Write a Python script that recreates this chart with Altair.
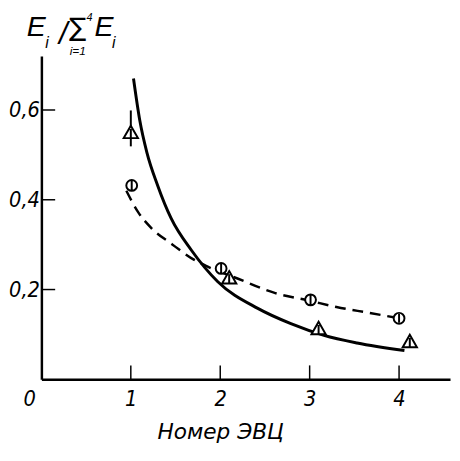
import altair as alt
import pandas as pd

# solid curve
solid_x = [1.03, 1.10, 1.18, 1.30, 1.45, 1.68, 1.97, 2.42, 2.79, 3.16, 3.53, 4.06]
solid_y = [0.670, 0.577, 0.505, 0.432, 0.359, 0.287, 0.218, 0.158, 0.124, 0.098, 0.081, 0.064]

# dashed curve
dash_x = [0.95, 1.08, 1.23, 1.46, 1.71, 1.86, 2.20, 2.60, 3.00, 3.30, 3.67, 4.00]
dash_y = [0.420, 0.373, 0.337, 0.301, 0.266, 0.251, 0.224, 0.193, 0.175, 0.161, 0.148, 0.136]

# circle markers
circ_x = [1.01, 2.01, 3.01, 4.00]
circ_y = [0.432, 0.247, 0.177, 0.136]

# triangle markers
tri_x = [1.00, 2.10, 3.10, 4.12]
tri_y = [0.550, 0.226, 0.113, 0.084]

# error bar on first triangle
err_x = [1.00]
err_lo = [0.519]
err_hi = [0.599]

x_ticks = [1, 2, 3, 4]
y_ticks = [0.2, 0.4, 0.6]

NARROW = "Liberation Sans Narrow, DejaVu Sans Condensed, Liberation Sans, sans-serif"
SANS = "Liberation Sans, DejaVu Sans, sans-serif"

xs = alt.Scale(domain=[0, 4.57], nice=False, zero=False)
ys = alt.Scale(domain=[0, 0.72], nice=False, zero=False)

solid_df = pd.DataFrame({"x": solid_x, "y": solid_y})
dash_df = pd.DataFrame({"x": dash_x, "y": dash_y})
circ_df = pd.DataFrame({"x": circ_x, "y": circ_y})
tri_df = pd.DataFrame({"x": tri_x, "y": tri_y})
err_df = pd.DataFrame({"x": err_x, "lo": err_lo, "hi": err_hi})
xt_df = pd.DataFrame({"x": x_ticks, "y0": [0.0] * 4, "y1": [0.031] * 4})
yt_df = pd.DataFrame({"y": y_ticks, "x0": [0.0] * 3, "x1": [0.154] * 3})

xaxis = alt.Axis(values=x_ticks, ticks=False, grid=False, domain=True, format="d",
                 domainColor="black", domainWidth=2.5,
                 labelFont=NARROW, labelFontStyle="italic", labelFontSize=22,
                 labelColor="black", labelPadding=10,
                 title="Номер ЭВЦ", titleFont="DejaVu Sans", titleFontStyle="italic",
                 titleFontWeight="normal", titleFontSize=22, titleColor="black",
                 titlePadding=12, titleX=182)
yaxis = alt.Axis(values=y_ticks, ticks=False, grid=False, domain=True,
                 domainColor="black", domainWidth=2.5,
                 labelFont=NARROW, labelFontStyle="italic", labelFontSize=22,
                 labelColor="black", labelPadding=2, format=".1f",
                 labelExpr="replace(datum.label, '.', ',')", title=None)

solid = alt.Chart(solid_df).mark_line(color="black", strokeWidth=3, interpolate="monotone").encode(
    x=alt.X("x:Q", scale=xs, axis=xaxis), y=alt.Y("y:Q", scale=ys, axis=yaxis))
dashed = alt.Chart(dash_df).mark_line(color="black", strokeWidth=2.5, strokeDash=[11, 7],
                                      interpolate="monotone").encode(
    x=alt.X("x:Q", scale=xs), y=alt.Y("y:Q", scale=ys))

circle_path = "M-1,0 A1,1 0 1,0 1,0 A1,1 0 1,0 -1,0 Z M0,-0.8 L0,0.8"
tri_path = "M0,-0.95 L1,0.8 L-1,0.8 Z M0,-0.5 L0,0.8"

circles = alt.Chart(circ_df).mark_point(shape=circle_path, filled=True, fill="white",
                                        stroke="black", strokeWidth=2, size=121, opacity=1).encode(
    x=alt.X("x:Q", scale=xs), y=alt.Y("y:Q", scale=ys))
err = alt.Chart(err_df).mark_rule(color="black", strokeWidth=2).encode(
    x=alt.X("x:Q", scale=xs), y=alt.Y("lo:Q", scale=ys), y2="hi:Q")
tris = alt.Chart(tri_df).mark_point(shape=tri_path, filled=True, fill="white",
                                    stroke="black", strokeWidth=2, size=210, opacity=1).encode(
    x=alt.X("x:Q", scale=xs), y=alt.Y("y:Q", scale=ys))

xt = alt.Chart(xt_df).mark_rule(color="black", strokeWidth=1.5).encode(
    x=alt.X("x:Q", scale=xs), y=alt.Y("y0:Q", scale=ys), y2="y1:Q")
yt = alt.Chart(yt_df).mark_rule(color="black", strokeWidth=1.5).encode(
    y=alt.Y("y:Q", scale=ys), x=alt.X("x0:Q", scale=xs), x2="x1:Q")


def txt(s, x, y, size, font=SANS, align="left", baseline="alphabetic", style="italic"):
    return alt.Chart(pd.DataFrame({"t": [s]})).mark_text(
        font=font, fontStyle=style, fontSize=size, color="black",
        align=align, baseline=baseline).encode(
        text="t:N", x=alt.value(x), y=alt.value(y))


labels = [
    txt("0", -12, 349, 22, font=NARROW, align="center", baseline="middle"),
    txt("E", -15, -20, 29),
    txt("i", 4, -8, 16),
    txt("/", 18, -12, 31),
    txt("∑", 37, -20, 26, font="DejaVu Sans", align="center", style="normal"),
    txt("4", 49, -36, 11, align="center"),
    txt("i=1", 37, -1, 12, align="center"),
    txt("E", 54, -20, 29),
    txt("i", 72, -8, 16),
]

chart = alt.layer(solid, dashed, err, circles, tris, xt, yt, *labels).properties(
    width=416, height=329, autosize="none",
    padding={"left": 34, "top": 45, "right": 2, "bottom": 70},
).configure_view(stroke=None)

chart.save("out.html", embed_options={"renderer": "svg", "actions": False})
